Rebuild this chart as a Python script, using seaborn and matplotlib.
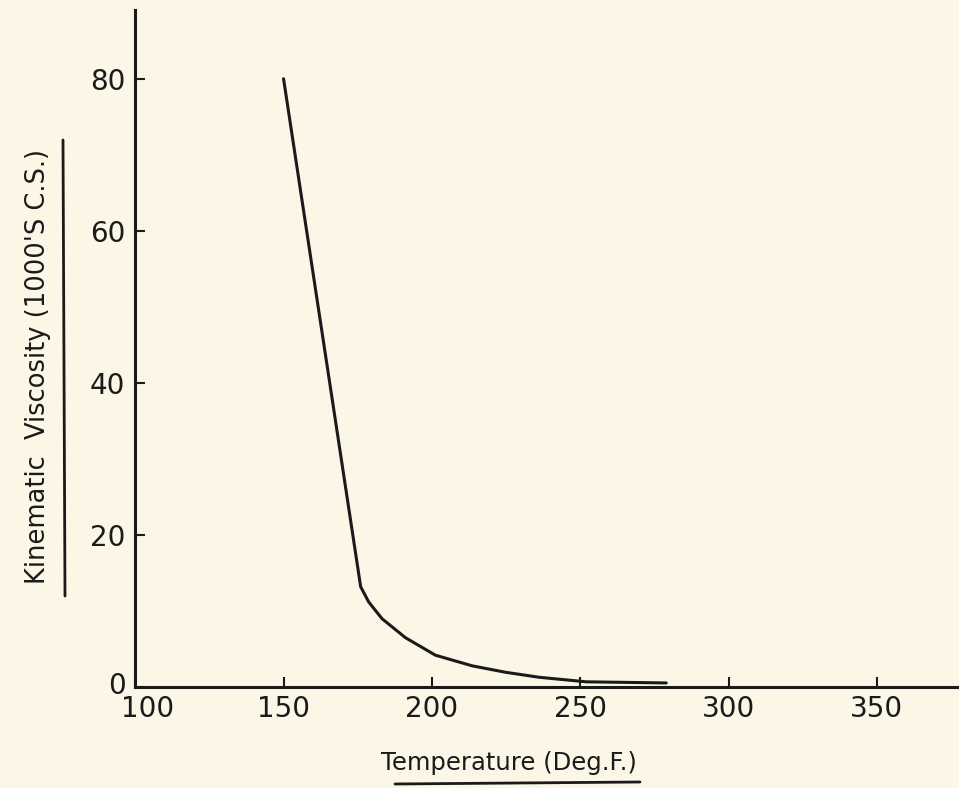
import matplotlib
matplotlib.use("Agg")
import matplotlib.pyplot as plt
import matplotlib.transforms as mtransforms
import seaborn as sns
import pandas as pd
from matplotlib.lines import Line2D

# Data
temperature = [150, 176, 178.7, 183.2, 191.1, 201.2, 213.6, 224.9, 236.1, 252, 279]
viscosity = [80, 13.2, 11.2, 9.0, 6.5, 4.2, 2.8, 1.95, 1.3, 0.7, 0.55]
x_ticks = [100, 150, 200, 250, 300, 350]
y_ticks = [0, 20, 40, 60, 80]
x_label = "Temperature (Deg.F.)"
y_label = "Kinematic  Viscosity (1000'S C.S.)"

sns.set_theme(style="ticks")
plt.rcParams['font.family'] = ['DejaVu Sans']

bg = '#fbf6e6'
ink = '#1a1a1a'

fig = plt.figure(figsize=(9.59, 7.88), dpi=100, facecolor=bg)
ax = fig.add_axes([0.141, 0.128, 0.859, 0.859])
ax.set_facecolor(bg)

df = pd.DataFrame({"T": temperature, "V": viscosity})
sns.lineplot(data=df, x="T", y="V", ax=ax, color=ink, linewidth=2.2,
             estimator=None, sort=False)

ax.set_xlim(100, 377.7)
ax.set_ylim(0, 89)
ax.set_xticks(x_ticks)
ax.set_yticks(y_ticks)
ax.set_xticklabels([str(v) for v in x_ticks])
ax.set_yticklabels([str(v) for v in y_ticks])
ax.tick_params(axis='both', direction='in', length=7, width=1.5, color=ink,
               labelsize=20, labelcolor=ink)
ax.tick_params(axis='x', pad=6)
ax.tick_params(axis='y', pad=7)
for s in ['top', 'right']:
    ax.spines[s].set_visible(False)
for s in ['left', 'bottom']:
    ax.spines[s].set_linewidth(2.2)
    ax.spines[s].set_color(ink)
ax.set_xlabel("")
ax.set_ylabel("")

# shift the "100" label right and "0" label slightly up, as in the reference
fig.canvas.draw()
xl = ax.get_xticklabels()[0]
xl.set_transform(xl.get_transform() + mtransforms.ScaledTranslation(12 / 100, 0, fig.dpi_scale_trans))
yl = ax.get_yticklabels()[0]
yl.set_transform(yl.get_transform() + mtransforms.ScaledTranslation(0, 4 / 100, fig.dpi_scale_trans))

# axis titles with underline rules
fig.text(509 / 959, 1 - 763 / 788, x_label, ha='center', va='center',
         fontsize=17.5, color=ink)
fig.add_artist(Line2D([395 / 959, 640 / 959], [1 - 784 / 788, 1 - 782 / 788],
                      color=ink, linewidth=2.0, transform=fig.transFigure))
fig.text(38 / 959, 1 - 367 / 788, y_label, ha='center', va='center',
         rotation=90, fontsize=18.5, color=ink)
fig.add_artist(Line2D([63 / 959, 65 / 959], [1 - 140 / 788, 1 - 596 / 788],
                      color=ink, linewidth=2.0, transform=fig.transFigure))

fig.savefig("out.png", dpi=100, facecolor=bg)
